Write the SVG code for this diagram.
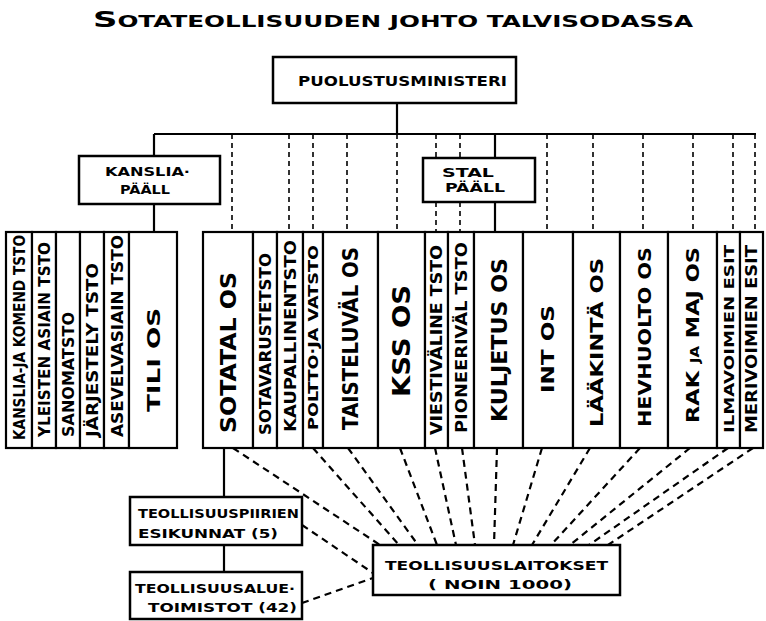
<svg xmlns="http://www.w3.org/2000/svg" width="766" height="621" viewBox="0 0 766 621">
<style>
  .bg{fill:#ffffff}
  .box{fill:#ffffff;stroke:#000;stroke-width:2.5}
  .col{fill:#ffffff;stroke:#000;stroke-width:2.2}
  .solid{fill:none;stroke:#000;stroke-width:2.2}
  .dash{fill:none;stroke:#000;stroke-width:1.6;stroke-dasharray:5 4}
  .dash2{fill:none;stroke:#000;stroke-width:2.2;stroke-dasharray:7 5}
  text{font-family:"DejaVu Sans","Liberation Sans",sans-serif;font-weight:bold;fill:#000}
  .t{font-size:13px}
  .v{lengthAdjust:spacingAndGlyphs}
</style>
<rect class="bg" x="0" y="0" width="766" height="621"/>

<g id="title">
  <text x="93" y="27" textLength="600" lengthAdjust="spacingAndGlyphs" style="font-size:16px"><tspan style="font-size:22px">S</tspan>OTATEOLLISUUDEN JOHTO TALVISODASSA</text>
</g>

<g id="connectors">
  <line class="solid" x1="397" y1="103" x2="397" y2="134"/>
  <line class="solid" x1="154" y1="134" x2="756" y2="134"/>
  <line class="solid" x1="154" y1="134" x2="154" y2="156"/>
  <line class="solid" x1="154" y1="204" x2="154" y2="232"/>
  <line class="solid" x1="495" y1="134" x2="495" y2="158"/>
  <line class="solid" x1="495" y1="202" x2="495" y2="232"/>
  <line class="dash" x1="232" y1="134" x2="232" y2="232"/>
  <line class="dash" x1="289" y1="134" x2="289" y2="232"/>
  <line class="dash" x1="313" y1="134" x2="313" y2="232"/>
  <line class="dash" x1="347" y1="134" x2="347" y2="232"/>
  <line class="dash" x1="397" y1="134" x2="397" y2="232"/>
  <line class="dash" x1="436" y1="134" x2="436" y2="158"/>
  <line class="dash" x1="436" y1="202" x2="436" y2="232"/>
  <line class="dash" x1="460" y1="134" x2="460" y2="158"/>
  <line class="dash" x1="460" y1="202" x2="460" y2="232"/>
  <line class="dash" x1="547" y1="134" x2="547" y2="232"/>
  <line class="dash" x1="593" y1="134" x2="593" y2="232"/>
  <line class="dash" x1="643" y1="134" x2="643" y2="232"/>
  <line class="dash" x1="693" y1="134" x2="693" y2="232"/>
  <line class="dash" x1="733" y1="134" x2="733" y2="232"/>
  <line class="dash" x1="755" y1="134" x2="755" y2="232"/>
  <line class="solid" x1="224" y1="448" x2="224" y2="497"/>
  <line class="solid" x1="224" y1="545" x2="224" y2="572"/>
  <line class="dash2" x1="233" y1="448" x2="380" y2="545"/>
  <line class="dash2" x1="313" y1="448" x2="399" y2="545"/>
  <line class="dash2" x1="348" y1="448" x2="418" y2="545"/>
  <line class="dash2" x1="400" y1="448" x2="437" y2="545"/>
  <line class="dash2" x1="435" y1="448" x2="456" y2="545"/>
  <line class="dash2" x1="462" y1="448" x2="475" y2="545"/>
  <line class="dash2" x1="497" y1="448" x2="494" y2="545"/>
  <line class="dash2" x1="542" y1="448" x2="513" y2="545"/>
  <line class="dash2" x1="590" y1="448" x2="532" y2="545"/>
  <line class="dash2" x1="640" y1="448" x2="551" y2="545"/>
  <line class="dash2" x1="690" y1="448" x2="570" y2="545"/>
  <line class="dash2" x1="728" y1="448" x2="589" y2="545"/>
  <line class="dash2" x1="753" y1="448" x2="608" y2="545"/>
  <line class="dash2" x1="302" y1="525" x2="373" y2="573"/>
  <line class="dash2" x1="302" y1="603" x2="373" y2="578"/>
</g>

<g id="puolustusministeri">
  <rect class="box" x="273" y="57" width="243" height="46"/>
  <text x="298" y="86" textLength="209" lengthAdjust="spacingAndGlyphs" style="font-size:14px">PUOLUSTUSMINISTERI</text>
</g>

<g id="kanslia-paall">
  <rect class="box" x="79" y="156" width="141" height="48"/>
  <text x="105" y="176" textLength="85" lengthAdjust="spacingAndGlyphs" style="font-size:13px">KANSLIA·</text>
  <text x="120" y="194" textLength="50" lengthAdjust="spacingAndGlyphs" style="font-size:13px">PÄÄLL</text>
</g>

<g id="stal-paall">
  <rect class="box" x="423" y="158" width="112" height="44"/>
  <text x="442" y="177" textLength="52" lengthAdjust="spacingAndGlyphs" style="font-size:13px">STAL</text>
  <text x="445" y="192" textLength="60" lengthAdjust="spacingAndGlyphs" style="font-size:13px">PÄÄLL</text>
</g>

<!-- left column group -->
<g id="c1"><rect class="col" x="6" y="232" width="26" height="216"/>
  <text transform="translate(25,440) rotate(-90)" textLength="205" lengthAdjust="spacingAndGlyphs" style="font-size:16px">KANSLIA-JA KOMEND TSTO</text></g>
<g id="c2"><rect class="col" x="32" y="232" width="24" height="216"/>
  <text transform="translate(50,437) rotate(-90)" textLength="195" lengthAdjust="spacingAndGlyphs" style="font-size:16px">YLEISTEN ASIAIN TSTO</text></g>
<g id="c3"><rect class="col" x="56" y="232" width="24" height="216"/>
  <text transform="translate(74,437) rotate(-90)" textLength="125" lengthAdjust="spacingAndGlyphs" style="font-size:16px">SANOMATSTO</text></g>
<g id="c4"><rect class="col" x="80" y="232" width="24" height="216"/>
  <text transform="translate(98,437) rotate(-90)" textLength="174" lengthAdjust="spacingAndGlyphs" style="font-size:16px">JÄRJESTELY TSTO</text></g>
<g id="c5"><rect class="col" x="104" y="232" width="25" height="216"/>
  <text transform="translate(122.5,437) rotate(-90)" textLength="202" lengthAdjust="spacingAndGlyphs" style="font-size:16px">ASEVELVASIAIN TSTO</text></g>
<g id="c6"><rect class="col" x="129" y="232" width="48" height="216"/>
  <text transform="translate(159.5,412) rotate(-90)" textLength="104" lengthAdjust="spacingAndGlyphs" style="font-size:18px">TILI  OS</text></g>

<!-- right column group -->
<g id="c7"><rect class="col" x="203" y="232" width="50" height="216"/>
  <text transform="translate(235.5,433) rotate(-90)" textLength="161" lengthAdjust="spacingAndGlyphs" style="font-size:21px">SOTATAL OS</text></g>
<g id="c8"><rect class="col" x="253" y="232" width="24" height="216"/>
  <text transform="translate(271,435) rotate(-90)" textLength="182" lengthAdjust="spacingAndGlyphs" style="font-size:16px">SOTAVARUSTETSTO</text></g>
<g id="c9"><rect class="col" x="277" y="232" width="26" height="216"/>
  <text transform="translate(296,432) rotate(-90)" textLength="192" lengthAdjust="spacingAndGlyphs" style="font-size:16px">KAUPALLINENTSTO</text></g>
<g id="c10"><rect class="col" x="303" y="232" width="20" height="216"/>
  <text transform="translate(318,430) rotate(-90)" textLength="185" lengthAdjust="spacingAndGlyphs" style="font-size:14px">POLTTO·JA VATSTO</text></g>
<g id="c11"><rect class="col" x="323" y="232" width="55" height="216"/>
  <text transform="translate(358,430) rotate(-90)" textLength="183" lengthAdjust="spacingAndGlyphs" style="font-size:22px">TAISTELUVÄL OS</text></g>
<g id="c12"><rect class="col" x="378" y="232" width="47" height="216"/>
  <text transform="translate(409.5,397) rotate(-90)" textLength="112" lengthAdjust="spacingAndGlyphs" style="font-size:24px">KSS OS</text></g>
<g id="c13"><rect class="col" x="425" y="232" width="23" height="216"/>
  <text transform="translate(442,435) rotate(-90)" textLength="190" lengthAdjust="spacingAndGlyphs" style="font-size:15px">VIESTIVÄLINE TSTO</text></g>
<g id="c14"><rect class="col" x="448" y="232" width="26" height="216"/>
  <text transform="translate(467,433) rotate(-90)" textLength="191" lengthAdjust="spacingAndGlyphs" style="font-size:16px">PIONEERIVÄL TSTO</text></g>
<g id="c15"><rect class="col" x="474" y="232" width="49" height="216"/>
  <text transform="translate(506.5,422) rotate(-90)" textLength="164" lengthAdjust="spacingAndGlyphs" style="font-size:22px">KULJETUS OS</text></g>
<g id="c16"><rect class="col" x="523" y="232" width="50" height="216"/>
  <text transform="translate(554,393) rotate(-90)" textLength="88" lengthAdjust="spacingAndGlyphs" style="font-size:17px">INT OS</text></g>
<g id="c17"><rect class="col" x="573" y="232" width="47" height="216"/>
  <text transform="translate(603,427) rotate(-90)" textLength="169" lengthAdjust="spacingAndGlyphs" style="font-size:18px">LÄÄKINTÄ OS</text></g>
<g id="c18"><rect class="col" x="620" y="232" width="48" height="216"/>
  <text transform="translate(650.5,427) rotate(-90)" textLength="180" lengthAdjust="spacingAndGlyphs" style="font-size:18px">HEVHUOLTO OS</text></g>
<g id="c19"><rect class="col" x="668" y="232" width="49" height="216"/>
  <text transform="translate(699,423) rotate(-90)" textLength="176" lengthAdjust="spacingAndGlyphs" style="font-size:18px">RAK <tspan style="font-size:12px">JA</tspan> MAJ OS</text></g>
<g id="c20"><rect class="col" x="717" y="232" width="23" height="216"/>
  <text transform="translate(733.5,433) rotate(-90)" textLength="188" lengthAdjust="spacingAndGlyphs" style="font-size:14px">ILMAVOIMIEN ESIT</text></g>
<g id="c21"><rect class="col" x="740" y="232" width="23" height="216"/>
  <text transform="translate(757,433) rotate(-90)" textLength="188" lengthAdjust="spacingAndGlyphs" style="font-size:15px">MERIVOIMIEN ESIT</text></g>

<g id="teollisuuspiirien-esikunnat">
  <rect class="box" x="130" y="497" width="172" height="48"/>
  <text x="138" y="518" textLength="161" lengthAdjust="spacingAndGlyphs" style="font-size:12px">TEOLLISUUSPIIRIEN</text>
  <text x="138" y="538" textLength="140" lengthAdjust="spacingAndGlyphs" style="font-size:13px">ESIKUNNAT (5)</text>
</g>

<g id="teollisuusaluetoimistot">
  <rect class="box" x="130" y="572" width="172" height="47"/>
  <text x="135" y="593" textLength="160" lengthAdjust="spacingAndGlyphs" style="font-size:12px">TEOLLISUUSALUE·</text>
  <text x="148" y="612" textLength="149" lengthAdjust="spacingAndGlyphs" style="font-size:13px">TOIMISTOT (42)</text>
</g>

<g id="teollisuuslaitokset">
  <rect class="box" x="373" y="545" width="247" height="50"/>
  <text x="385" y="570" textLength="223" lengthAdjust="spacingAndGlyphs" style="font-size:13px">TEOLLISUUSLAITOKSET</text>
  <text x="428" y="589" textLength="144" lengthAdjust="spacingAndGlyphs" style="font-size:13px">( NOIN  1000)</text>
</g>
</svg>
